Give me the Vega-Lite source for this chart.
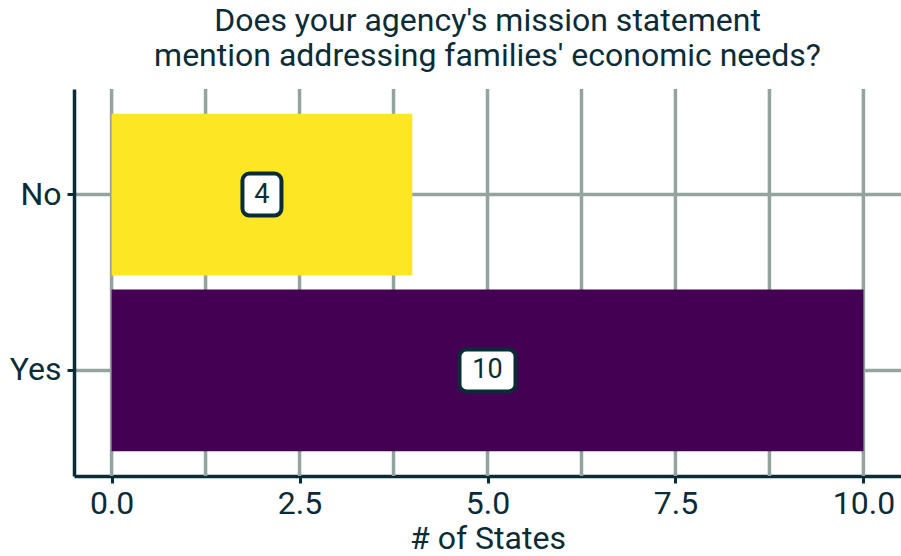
{
  "$schema": "https://vega.github.io/schema/vega-lite/v6.json",
  "autosize": {"type": "none"},
  "width": 827,
  "height": 387,
  "padding": {"left": 74, "top": 89, "right": 0, "bottom": 80},
  "background": "white",
  "config": {
    "font": "Roboto",
    "view": {"stroke": null},
    "axis": {"labelFont": "Roboto", "titleFont": "Roboto", "labelColor": "#0b2c36", "titleColor": "#0b2c36", "titleFontWeight": "normal"}
  },
  "title": {
    "text": ["Does your agency's mission statement", "mention addressing families' economic needs?"],
    "fontSize": 32,
    "font": "Roboto",
    "fontWeight": "normal",
    "color": "#0b2c36",
    "anchor": "middle",
    "lineHeight": 35,
    "offset": 14
  },
  "data": {
    "values": [
      {"answer": "No", "n": 4, "label": "4"},
      {"answer": "Yes", "n": 10, "label": "10"}
    ]
  },
  "transform": [{"calculate": "datum.n / 2", "as": "mid"}],
  "encoding": {
    "y": {
      "field": "answer",
      "type": "nominal",
      "sort": ["No", "Yes"],
      "scale": {"paddingInner": 0.08, "paddingOuter": 0.14},
      "axis": {
        "title": null,
        "labelFontSize": 32,
        "labelPadding": 6,
        "domainColor": "#0b2c36",
        "domainWidth": 3.5,
        "tickColor": "#0b2c36",
        "tickWidth": 3,
        "tickSize": 7,
        "grid": true,
        "gridColor": "#94a39f",
        "gridWidth": 3.5,
        "bandPosition": 0.5
      }
    }
  },
  "layer": [
    {
      "mark": {"type": "rule", "color": "#94a39f", "strokeWidth": 3.5},
      "data": {"values": [{"v": 0}, {"v": 1.25}, {"v": 2.5}, {"v": 3.75}, {"v": 5}, {"v": 6.25}, {"v": 7.5}, {"v": 8.75}, {"v": 10}]},
      "encoding": {"x": {"field": "v", "type": "quantitative"}, "y": null}
    },
    {
      "mark": {"type": "bar"},
      "encoding": {
        "x": {
          "field": "n",
          "type": "quantitative",
          "scale": {"domain": [-0.5, 10.5], "nice": false, "zero": false},
          "axis": {
            "title": "# of States",
            "titleFontSize": 32,
            "titlePadding": 4,
            "labelFontSize": 32,
            "labelPadding": 5,
            "values": [0, 2.5, 5, 7.5, 10],
            "format": ".1f",
            "domainColor": "#0b2c36",
            "domainWidth": 3.5,
            "tickColor": "#0b2c36",
            "tickWidth": 3,
            "tickSize": 7,
            "grid": false
          }
        },
        "x2": {"datum": 0},
        "color": {
          "field": "answer",
          "type": "nominal",
          "scale": {"domain": ["No", "Yes"], "range": ["#FDE725", "#440154"]},
          "legend": null
        }
      }
    },
    {
      "mark": {"type": "rect", "fill": "white", "stroke": "#0b2c36", "strokeWidth": 4, "cornerRadius": 7, "height": 42, "width": {"expr": "length(datum.label) > 1 ? 56 : 39"}},
      "encoding": {"x": {"field": "mid", "type": "quantitative"}}
    },
    {
      "mark": {"type": "text", "fontSize": 27, "color": "#0b2c36", "font": "Roboto"},
      "encoding": {"x": {"field": "mid", "type": "quantitative"}, "text": {"field": "label"}}
    }
  ]
}
